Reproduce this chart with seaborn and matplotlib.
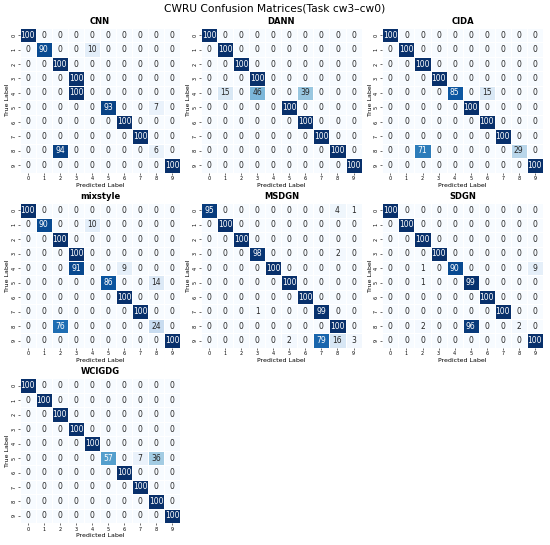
import numpy as np
import matplotlib
matplotlib.use('Agg')
import matplotlib.pyplot as plt
import seaborn as sns

# Confusion matrices (percent), rows = true label, cols = predicted label
cnn = [
    [100, 0, 0, 0, 0, 0, 0, 0, 0, 0],
    [0, 90, 0, 0, 10, 0, 0, 0, 0, 0],
    [0, 0, 100, 0, 0, 0, 0, 0, 0, 0],
    [0, 0, 0, 100, 0, 0, 0, 0, 0, 0],
    [0, 0, 0, 100, 0, 0, 0, 0, 0, 0],
    [0, 0, 0, 0, 0, 93, 0, 0, 7, 0],
    [0, 0, 0, 0, 0, 0, 100, 0, 0, 0],
    [0, 0, 0, 0, 0, 0, 0, 100, 0, 0],
    [0, 0, 94, 0, 0, 0, 0, 0, 6, 0],
    [0, 0, 0, 0, 0, 0, 0, 0, 0, 100],
]
dann = [
    [100, 0, 0, 0, 0, 0, 0, 0, 0, 0],
    [0, 100, 0, 0, 0, 0, 0, 0, 0, 0],
    [0, 0, 100, 0, 0, 0, 0, 0, 0, 0],
    [0, 0, 0, 100, 0, 0, 0, 0, 0, 0],
    [0, 15, 0, 46, 0, 0, 39, 0, 0, 0],
    [0, 0, 0, 0, 0, 100, 0, 0, 0, 0],
    [0, 0, 0, 0, 0, 0, 100, 0, 0, 0],
    [0, 0, 0, 0, 0, 0, 0, 100, 0, 0],
    [0, 0, 0, 0, 0, 0, 0, 0, 100, 0],
    [0, 0, 0, 0, 0, 0, 0, 0, 0, 100],
]
cida = [
    [100, 0, 0, 0, 0, 0, 0, 0, 0, 0],
    [0, 100, 0, 0, 0, 0, 0, 0, 0, 0],
    [0, 0, 100, 0, 0, 0, 0, 0, 0, 0],
    [0, 0, 0, 100, 0, 0, 0, 0, 0, 0],
    [0, 0, 0, 0, 85, 0, 15, 0, 0, 0],
    [0, 0, 0, 0, 0, 100, 0, 0, 0, 0],
    [0, 0, 0, 0, 0, 0, 100, 0, 0, 0],
    [0, 0, 0, 0, 0, 0, 0, 100, 0, 0],
    [0, 0, 71, 0, 0, 0, 0, 0, 29, 0],
    [0, 0, 0, 0, 0, 0, 0, 0, 0, 100],
]
mixstyle = [
    [100, 0, 0, 0, 0, 0, 0, 0, 0, 0],
    [0, 90, 0, 0, 10, 0, 0, 0, 0, 0],
    [0, 0, 100, 0, 0, 0, 0, 0, 0, 0],
    [0, 0, 0, 100, 0, 0, 0, 0, 0, 0],
    [0, 0, 0, 91, 0, 0, 9, 0, 0, 0],
    [0, 0, 0, 0, 0, 86, 0, 0, 14, 0],
    [0, 0, 0, 0, 0, 0, 100, 0, 0, 0],
    [0, 0, 0, 0, 0, 0, 0, 100, 0, 0],
    [0, 0, 76, 0, 0, 0, 0, 0, 24, 0],
    [0, 0, 0, 0, 0, 0, 0, 0, 0, 100],
]
msdgn = [
    [95, 0, 0, 0, 0, 0, 0, 0, 4, 1],
    [0, 100, 0, 0, 0, 0, 0, 0, 0, 0],
    [0, 0, 100, 0, 0, 0, 0, 0, 0, 0],
    [0, 0, 0, 98, 0, 0, 0, 0, 2, 0],
    [0, 0, 0, 0, 100, 0, 0, 0, 0, 0],
    [0, 0, 0, 0, 0, 100, 0, 0, 0, 0],
    [0, 0, 0, 0, 0, 0, 100, 0, 0, 0],
    [0, 0, 0, 1, 0, 0, 0, 99, 0, 0],
    [0, 0, 0, 0, 0, 0, 0, 0, 100, 0],
    [0, 0, 0, 0, 0, 2, 0, 79, 16, 3],
]
sdgn = [
    [100, 0, 0, 0, 0, 0, 0, 0, 0, 0],
    [0, 100, 0, 0, 0, 0, 0, 0, 0, 0],
    [0, 0, 100, 0, 0, 0, 0, 0, 0, 0],
    [0, 0, 0, 100, 0, 0, 0, 0, 0, 0],
    [0, 0, 1, 0, 90, 0, 0, 0, 0, 9],
    [0, 0, 1, 0, 0, 99, 0, 0, 0, 0],
    [0, 0, 0, 0, 0, 0, 100, 0, 0, 0],
    [0, 0, 0, 0, 0, 0, 0, 100, 0, 0],
    [0, 0, 2, 0, 0, 96, 0, 0, 2, 0],
    [0, 0, 0, 0, 0, 0, 0, 0, 0, 100],
]
wcigdg = [
    [100, 0, 0, 0, 0, 0, 0, 0, 0, 0],
    [0, 100, 0, 0, 0, 0, 0, 0, 0, 0],
    [0, 0, 100, 0, 0, 0, 0, 0, 0, 0],
    [0, 0, 0, 100, 0, 0, 0, 0, 0, 0],
    [0, 0, 0, 0, 100, 0, 0, 0, 0, 0],
    [0, 0, 0, 0, 0, 57, 0, 7, 36, 0],
    [0, 0, 0, 0, 0, 0, 100, 0, 0, 0],
    [0, 0, 0, 0, 0, 0, 0, 100, 0, 0],
    [0, 0, 0, 0, 0, 0, 0, 0, 100, 0],
    [0, 0, 0, 0, 0, 0, 0, 0, 0, 100],
]

model_names = ['CNN', 'DANN', 'CIDA', 'mixstyle', 'MSDGN', 'SDGN', 'WCIGDG']
matrices = [cnn, dann, cida, mixstyle, msdgn, sdgn, wcigdg]
class_labels = [str(i) for i in range(10)]

fig, axes = plt.subplots(3, 3, figsize=(5.5, 5.45), dpi=100)
plt.subplots_adjust(left=0.036, right=0.987, top=0.949, bottom=0.04,
                    wspace=0.13, hspace=0.21)

for ax, name, cm in zip(axes.flat, model_names, matrices):
    sns.heatmap(np.array(cm), annot=True, fmt='d', cmap='Blues', cbar=False,
                vmin=0, vmax=100, linewidths=0.5, linecolor='white',
                xticklabels=class_labels, yticklabels=class_labels,
                annot_kws={'fontsize': 5.5}, ax=ax)
    ax.set_title(name, fontsize=6, fontweight='bold', pad=3)
    ax.set_xlabel('Predicted Label', fontsize=4.5, labelpad=1)
    ax.set_ylabel('True Label', fontsize=4.5, labelpad=1)
    ax.tick_params(axis='both', labelsize=3.5, length=1.5, width=0.4, pad=1)
    plt.setp(ax.get_yticklabels(), rotation=90, va='center')

for ax in axes.flat[len(matrices):]:
    ax.axis('off')

fig.suptitle('CWRU Confusion Matrices(Task cw3\u2013cw0)', fontsize=7.7, y=0.993)

plt.savefig('out.png', dpi=100)
plt.close()
